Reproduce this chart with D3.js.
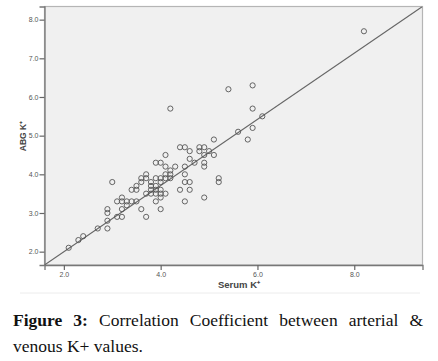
<!DOCTYPE html>
<html>
<head>
<meta charset="utf-8">
<script src="https://cdn.jsdelivr.net/npm/d3@7"></script>
<style>
  body { margin: 0; background: #fff; width: 438px; height: 361px; overflow: hidden; }
  #caption {
    position: absolute; left: 13px; top: 307px; width: 410px;
    font-family: "Liberation Serif", "Times New Roman", serif;
    font-size: 17.5px; line-height: 26px; color: #111;
    text-align: justify; text-align-last: left;
  }
</style>
</head>
<body>
<svg id="chart" width="438" height="300" style="position:absolute;left:0;top:0"></svg>
<div id="caption"><b>Figure 3:</b> Correlation Coefficient between arterial &amp; venous K+ values.</div>
<script>
// serum K+ vs ABG K+ pairs
var serumK = [8.2,5.4,5.9,4.2,5.9,6.1,5.9,5.6,5.8,5.1,4.4,4.5,4.8,4.9,4.6,4.8,5.0,4.1,4.9,5.1,
  4.6,4.7,3.9,4.0,4.9,4.9,4.5,4.3,4.1,4.2,4.5,3.7,4.1,4.2,5.2,5.2,3.6,3.7,3.9,4.0,
  4.1,4.2,3.0,3.6,3.8,4.0,4.5,4.6,3.5,3.8,3.9,3.4,3.5,3.8,3.9,4.0,4.4,4.6,3.7,3.8,
  3.9,4.0,4.1,4.0,4.9,3.2,3.1,3.2,3.3,3.4,3.5,3.9,4.5,3.3,3.2,2.9,2.9,3.6,4.0,3.1,
  3.2,3.7,2.9,2.7,2.9,2.4,2.3,2.1];
var abgK = [7.7,6.2,6.3,5.7,5.7,5.5,5.2,5.1,4.9,4.9,4.7,4.7,4.7,4.7,4.6,4.6,4.6,4.5,4.5,4.5,
  4.4,4.3,4.3,4.3,4.3,4.2,4.2,4.2,4.2,4.1,4.0,4.0,4.0,4.0,3.9,3.8,3.9,3.9,3.9,3.9,
  3.9,3.9,3.8,3.8,3.8,3.8,3.8,3.8,3.7,3.7,3.7,3.6,3.6,3.6,3.6,3.6,3.6,3.6,3.5,3.5,
  3.5,3.5,3.5,3.4,3.4,3.4,3.3,3.3,3.3,3.3,3.3,3.3,3.3,3.2,3.1,3.1,3.0,3.1,3.1,2.9,
  2.9,2.9,2.8,2.6,2.6,2.4,2.3,2.1];
var xTicks = [2, 4, 6, 8];
var yTicks = [2, 3, 4, 5, 6, 7, 8];
var xDomain = [1.6, 9.41];
var yDomain = [1.655, 8.34];
// fit line: abg = a + b * serum
var fitA = 0.285, fitB = 0.856;

var svg = d3.select("#chart");
var pLeft = 44.5, pRight = 422.5, pTop = 6.5, pBottom = 265;
var x = d3.scaleLinear().domain(xDomain).range([pLeft, pRight]);
var y = d3.scaleLinear().domain(yDomain).range([pBottom, pTop]);

svg.append("rect")
  .attr("x", pLeft).attr("y", pTop)
  .attr("width", pRight - pLeft).attr("height", pBottom - pTop)
  .attr("fill", "#f0f0f0").attr("stroke", "#b5b5b5").attr("stroke-width", 1.2);

var gx = svg.append("g").attr("transform", "translate(0," + pBottom + ")")
  .call(d3.axisBottom(x).tickValues(xTicks).tickFormat(d3.format(".1f")).tickSizeOuter(0).tickSize(5));
var gy = svg.append("g").attr("transform", "translate(" + pLeft + ",0)")
  .call(d3.axisLeft(y).tickValues(yTicks).tickFormat(d3.format(".1f")).tickSizeOuter(0).tickSize(5));
[gx, gy].forEach(function(g) {
  g.select(".domain").attr("stroke", "#777").attr("stroke-width", 1.3);
  g.selectAll(".tick line").attr("stroke", "#666").attr("stroke-width", 1.2);
  g.selectAll(".tick text").attr("fill", "#555")
    .style("font-family", "Liberation Sans, Arial, sans-serif").style("font-size", "7px");
});
gy.selectAll(".tick text").attr("x", -6);
gx.selectAll(".tick text").attr("y", 7);

svg.append("clipPath").attr("id", "clip").append("rect")
  .attr("x", pLeft).attr("y", pTop).attr("width", pRight - pLeft).attr("height", pBottom - pTop);

svg.append("line")
  .attr("clip-path", "url(#clip)")
  .attr("x1", x(xDomain[0])).attr("y1", y(fitA + fitB * xDomain[0]))
  .attr("x2", x(xDomain[1])).attr("y2", y(fitA + fitB * xDomain[1]))
  .attr("stroke", "#666").attr("stroke-width", 1.1);

svg.append("g").selectAll("circle")
  .data(d3.range(serumK.length))
  .enter().append("circle")
  .attr("cx", function(i) { return x(serumK[i]); })
  .attr("cy", function(i) { return y(abgK[i]); })
  .attr("r", 2.6)
  .attr("fill", "none")
  .attr("stroke", "#555")
  .attr("stroke-width", 0.9);

svg.append("text")
  .attr("x", 239).attr("y", 288)
  .attr("text-anchor", "middle")
  .style("font-family", "Liberation Sans, Arial, sans-serif")
  .style("font-size", "9.5px").style("font-weight", "bold").attr("fill", "#444")
  .text("Serum K\u207A");

svg.append("text")
  .attr("transform", "translate(26,136) rotate(-90)")
  .attr("text-anchor", "middle")
  .style("font-family", "Liberation Sans, Arial, sans-serif")
  .style("font-size", "8.5px").style("font-weight", "bold").attr("fill", "#444")
  .text("ABG K\u207A");

// faint rule under the figure
svg.append("line").attr("x1", 20).attr("x2", 420).attr("y1", 293).attr("y2", 293)
  .attr("stroke", "#ececec").attr("stroke-width", 1);
</script>
</body>
</html>
